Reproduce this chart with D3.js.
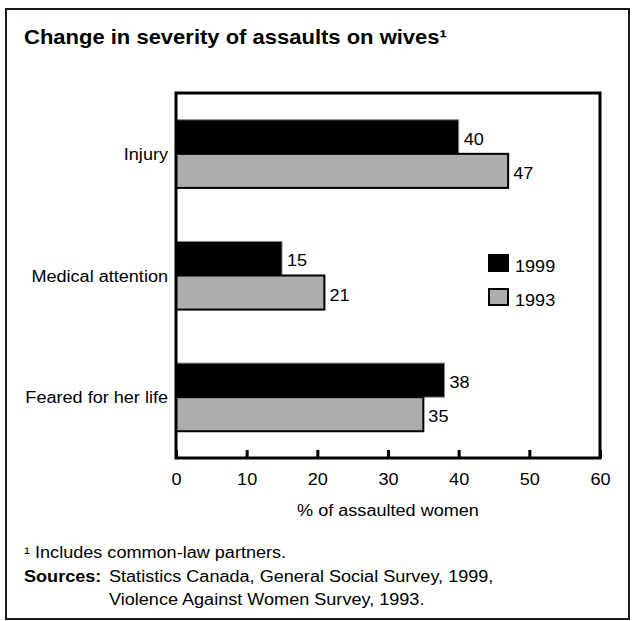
<!DOCTYPE html>
<html><head><meta charset="utf-8">
<script src="https://cdn.jsdelivr.net/npm/d3@7"></script>
<style>
html,body{margin:0;padding:0;background:#fff;}
svg text{font-family:"Liberation Sans",Arial,Helvetica,sans-serif;fill:#000;}
</style></head>
<body>
<svg id="chart" width="632" height="621"></svg>
<script>
const categories = ["Injury", "Medical attention", "Feared for her life"];
const seriesNames = ["1999", "1993"];
const values1999 = [40, 15, 38];
const values1993 = [47, 21, 35];
const xTicks = [0, 10, 20, 30, 40, 50, 60];
const titleText = "Change in severity of assaults on wives¹";
const xAxisTitle = "% of assaulted women";
const footnote = "¹ Includes common-law partners.";
const sourcesLabel = "Sources:";
const sourcesLines = ["Statistics Canada, General Social Survey, 1999,", "Violence Against Women Survey, 1993."];

(function () {
const colors = {"1999": "#000000", "1993": "#adadad"};
const FS = 16, SX = 1.13;
const svg = d3.select("#chart");

// place text with slight horizontal stretch (matches reference typeface proportions)
function txt(sel, x, y, str, opts) {
  opts = opts || {};
  const t = sel.append("text")
    .attr("transform", `translate(${x},${y}) scale(${opts.sx || SX},1)`)
    .attr("font-size", opts.size || FS)
    .attr("text-anchor", opts.anchor || "start")
    .text(str);
  if (opts.bold) t.attr("font-weight", "bold");
  return t;
}

// outer frame
svg.append("rect").attr("x", 6).attr("y", 9).attr("width", 623).attr("height", 610)
  .attr("fill", "none").attr("stroke", "#1a1a1a").attr("stroke-width", 2);

txt(svg, 24, 44, titleText, {size: 20, bold: true, sx: 1.1});

const pLeft = 176, pRight = 600, pTop = 93, pBottom = 458;
const x = d3.scaleLinear().domain([0, 60]).range([pLeft, pRight]);
const y = d3.scaleBand().domain(categories).range([pTop, pBottom]).paddingInner(0.44).paddingOuter(0.22);
const ys = d3.scaleBand().domain(seriesNames).range([0, y.bandwidth()]);

const data = categories.map((c, i) => ({cat: c, vals: [{s: "1999", v: values1999[i]}, {s: "1993", v: values1993[i]}]}));

const g = svg.append("g");
const groups = g.selectAll("g.cat").data(data).join("g").attr("transform", d => `translate(0,${y(d.cat)})`);
groups.selectAll("rect").data(d => d.vals).join("rect")
  .attr("x", x(0)).attr("y", d => ys(d.s)).attr("width", d => x(d.v) - x(0)).attr("height", ys.bandwidth())
  .attr("fill", d => colors[d.s])
  .attr("stroke", d => d.s === "1993" ? "#000" : "#888")
  .attr("stroke-width", d => d.s === "1993" ? 2 : 1);
groups.each(function (d) {
  const gg = d3.select(this);
  d.vals.forEach(v => txt(gg, x(v.v) + 5, ys(v.s) + ys.bandwidth() / 2 + 8, v.v));
});

// category labels
categories.forEach(c => txt(svg, pLeft - 8, y(c) + y.bandwidth() / 2 + 6, c, {anchor: "end"}));

// plot frame
svg.append("rect").attr("x", pLeft).attr("y", pTop).attr("width", pRight - pLeft).attr("height", pBottom - pTop)
  .attr("fill", "none").attr("stroke", "#000").attr("stroke-width", 3);

// x axis with inward ticks
const ax = svg.append("g").attr("transform", `translate(0,${pBottom})`)
  .call(d3.axisBottom(x).tickValues(xTicks).tickSize(-8).tickPadding(0).tickFormat(d3.format("d")));
ax.select(".domain").remove();
ax.selectAll(".tick line").attr("stroke", "#000").attr("stroke-width", 3);
ax.selectAll(".tick text").attr("y", null).attr("dy", null)
  .attr("transform", `translate(0,27) scale(${SX},1)`).attr("font-size", FS)
  .attr("font-family", "Liberation Sans, Arial, sans-serif").attr("fill", "#000");

txt(svg, (pLeft + pRight) / 2, 516, xAxisTitle, {anchor: "middle"});

// legend
const legend = svg.append("g").attr("transform", "translate(488,254)");
seriesNames.forEach((s, i) => {
  legend.append("rect").attr("x", 1).attr("y", i * 34 + 1).attr("width", 19).attr("height", 16)
    .attr("fill", colors[s]).attr("stroke", "#000").attr("stroke-width", 2);
  txt(legend, 27, i * 34 + 18, s);
});

// footnotes
txt(svg, 24, 558, footnote);
txt(svg, 24, 582, sourcesLabel, {bold: true});
sourcesLines.forEach((l, i) => txt(svg, 109, 582 + i * 23, l));
})();
</script>
</body></html>
